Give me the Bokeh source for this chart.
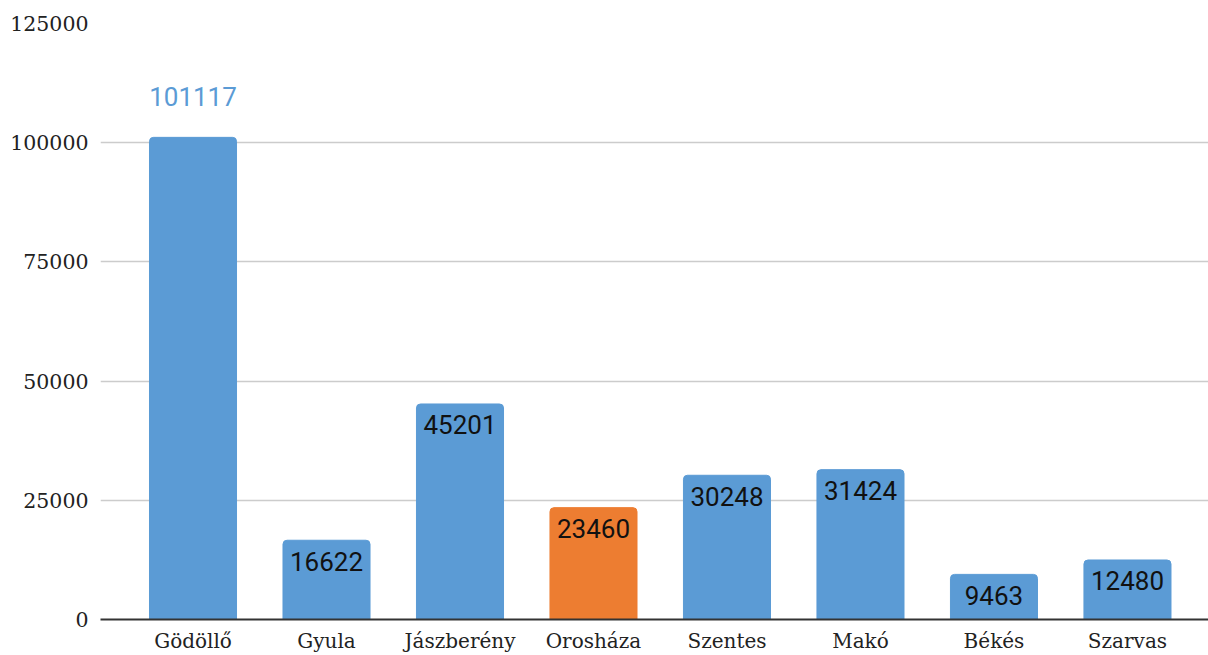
from bokeh.plotting import figure
from bokeh.models import ColumnDataSource, FixedTicker, Range1d, LabelSet, BasicTickFormatter
from bokeh.core.properties import value
from bokeh.embed import file_html
from bokeh.resources import INLINE

cities = ["Gödöllő", "Gyula", "Jászberény", "Orosháza", "Szentes", "Makó", "Békés", "Szarvas"]
population = [101117, 16622, 45201, 23460, 30248, 31424, 9463, 12480]
highlight = "Orosháza"
y_ticks = [0, 25000, 50000, 75000, 100000, 125000]

BLUE = "#5b9bd5"
ORANGE = "#ed7d31"

xs = list(range(len(cities)))
colors = [ORANGE if c == highlight else BLUE for c in cities]
vmax = max(population)
label_offsets = [41 if v == vmax else -21 for v in population]
label_colors = [BLUE if v == vmax else "#111111" for v in population]

src = ColumnDataSource(dict(x=xs, y=population, color=colors, label=[str(v) for v in population],
                            off=label_offsets, lcolor=label_colors))

p = figure(width=1208, height=655, output_backend="svg", toolbar_location=None,
           x_range=Range1d(-0.693, 7.607), y_range=Range1d(0, 125000),
           min_border_left=100, min_border_right=0, min_border_top=23, min_border_bottom=20)
p.outline_line_color = None
p.background_fill_color = "white"
p.border_fill_color = "white"

p.vbar(x="x", top="y", width=0.652, bottom=0, color="color", source=src,
       border_radius=(4, 4, 0, 0))

labels = LabelSet(x="x", y="y", text="label", source=src, y_offset="off",
                  text_align="center", text_baseline="middle",
                  text_font=value("Roboto"), text_font_size="26px", text_color="lcolor")
p.add_layout(labels)

p.ygrid.ticker = FixedTicker(ticks=y_ticks)
p.ygrid.grid_line_color = "#cccccc"
p.ygrid.grid_line_width = 1.5
p.xgrid.grid_line_color = None

p.yaxis.ticker = FixedTicker(ticks=y_ticks)
p.yaxis.formatter = BasicTickFormatter(use_scientific=False)
p.yaxis.axis_line_color = None
p.yaxis.major_tick_line_color = None
p.yaxis.minor_tick_line_color = None
p.yaxis.major_tick_out = 0
p.yaxis.major_tick_in = 0
p.yaxis.major_label_standoff = 12
p.yaxis.major_label_text_font = "DejaVu Serif"
p.yaxis.major_label_text_font_size = "20.5px"
p.yaxis.major_label_text_color = "#222222"
p.yaxis.major_label_text_font_style = "normal"

p.xaxis.ticker = FixedTicker(ticks=xs)
p.xaxis.major_label_overrides = {i: c for i, c in enumerate(cities)}
p.xaxis.axis_line_color = "#333333"
p.xaxis.axis_line_width = 2
p.xaxis.major_tick_line_color = None
p.xaxis.minor_tick_line_color = None
p.xaxis.major_tick_out = 0
p.xaxis.major_tick_in = 0
p.xaxis.major_label_standoff = 9
p.xaxis.major_label_text_font = "DejaVu Serif"
p.xaxis.major_label_text_font_size = "20px"
p.xaxis.major_label_text_color = "#222222"

open("out.html", "w").write(file_html(p, INLINE))
